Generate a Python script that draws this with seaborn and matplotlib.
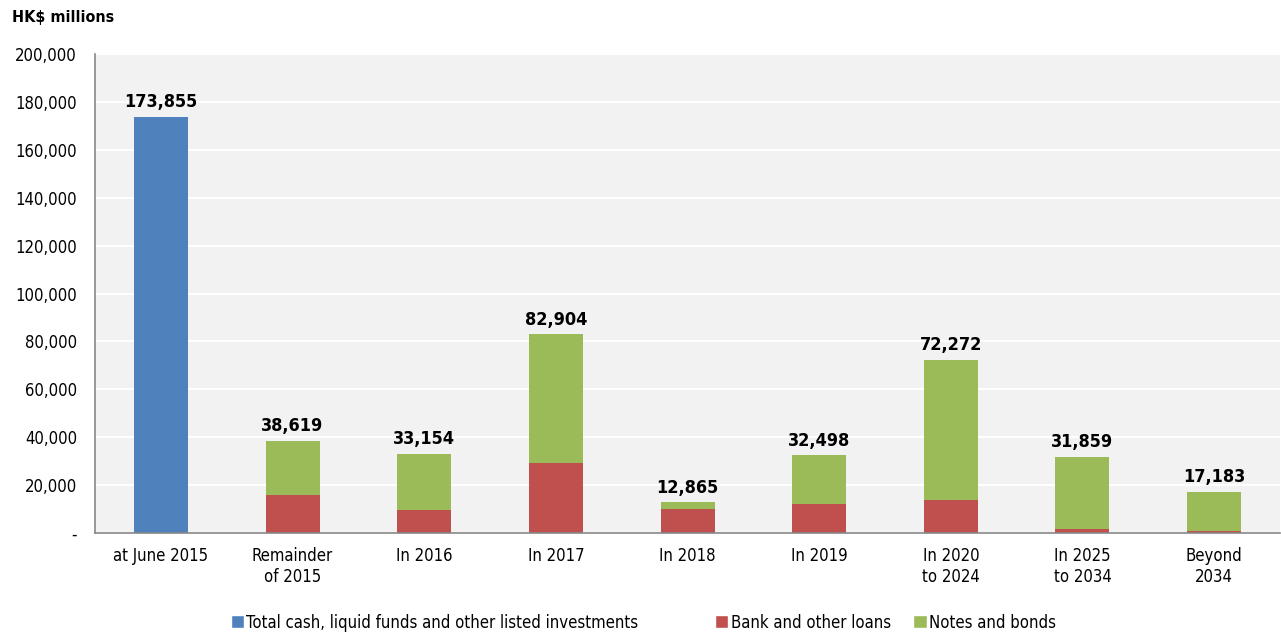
import matplotlib
matplotlib.use('Agg')
import pandas as pd
import matplotlib.pyplot as plt
import seaborn as sns
from matplotlib.ticker import FuncFormatter, MultipleLocator
from matplotlib.patches import Patch

# Values (HK$ millions)
categories = ['at June 2015', 'Remainder\nof 2015', 'In 2016', 'In 2017', 'In 2018',
              'In 2019', 'In 2020\nto 2024', 'In 2025\nto 2034', 'Beyond\n2034']
cash = [173855, 0, 0, 0, 0, 0, 0, 0, 0]
loans = [0, 15900, 9800, 29300, 10200, 12300, 13700, 1500, 1000]
notes = [0, 22719, 23354, 53604, 2665, 20198, 58572, 30359, 16183]

blue, red, green = '#4F81BD', '#C0504D', '#9BBB59'

df = pd.DataFrame({'category': categories, 'cash': cash, 'loans': loans, 'notes': notes})
df['debt'] = df['loans'] + df['notes']
df['total'] = df['cash'] + df['debt']

sns.set_style('white')
plt.rcParams['font.family'] = ['Liberation Sans Narrow', 'DejaVu Sans']
plt.rcParams['font.stretch'] = 'condensed'
plt.rcParams['text.color'] = 'black'
plt.rcParams['xtick.color'] = 'black'
plt.rcParams['ytick.color'] = 'black'

fig = plt.figure(figsize=(12.81, 6.34), dpi=100)
ax = fig.add_axes([0.0742, 0.1593, 0.9250, 0.7555])
ax.set_facecolor('#F2F2F2')

# stacked bars: full debt in green, loans drawn over it in red
bar_kw = dict(width=0.41, ax=ax, saturation=1, linewidth=0)
sns.barplot(data=df, x='category', y='debt', color=green, **bar_kw)
sns.barplot(data=df, x='category', y='loans', color=red, **bar_kw)
sns.barplot(data=df, x='category', y='cash', color=blue, **bar_kw)

for i, tot in enumerate(df['total']):
    ax.annotate(f'{tot:,.0f}', (i, tot), xytext=(0, 4), textcoords='offset points',
                ha='center', va='bottom', fontsize=13, fontweight='bold')

ax.set_xlim(-0.5, len(categories) - 0.5)
ax.set_ylim(0, 200000)
ax.yaxis.set_major_locator(MultipleLocator(20000))
ax.yaxis.set_major_formatter(FuncFormatter(lambda v, p: '-' if v == 0 else f'{v:,.0f}'))
ax.grid(axis='y', color='white', linewidth=1.5)
ax.set_axisbelow(True)

ax.set_xlabel('')
ax.set_ylabel('')
ax.set_xticks(range(len(categories)))
ax.set_xticklabels(categories, fontsize=12)
ax.set_xticks([i - 0.5 for i in range(len(categories) + 1)], minor=True)
ax.tick_params(axis='x', which='major', length=0, pad=10)
ax.tick_params(axis='x', which='minor', length=5, color='#888888', direction='out')
ax.tick_params(axis='y', length=5, color='#888888', direction='out', labelsize=12, pad=8)

for s in ['top', 'right']:
    ax.spines[s].set_visible(False)
for s in ['left', 'bottom']:
    ax.spines[s].set_color('#888888')
    ax.spines[s].set_linewidth(1.2)

fig.text(0.009, 0.972, 'HK$ millions', fontsize=11.5, fontweight='bold', va='center')

# legend entries spread along the bottom like the reference
entries = [('Total cash, liquid funds and other listed investments', blue, 0.180),
           ('Bank and other loans', red, 0.558),
           ('Notes and bonds', green, 0.713)]
for label, col, xpos in entries:
    fig.legend(handles=[Patch(facecolor=col, label=label)], loc='center left',
               bbox_to_anchor=(xpos, 0.018), frameon=False, fontsize=12,
               handlelength=0.8, handleheight=0.8, handletextpad=0.15,
               borderaxespad=0, borderpad=0)

fig.savefig('out.png', dpi=100)
